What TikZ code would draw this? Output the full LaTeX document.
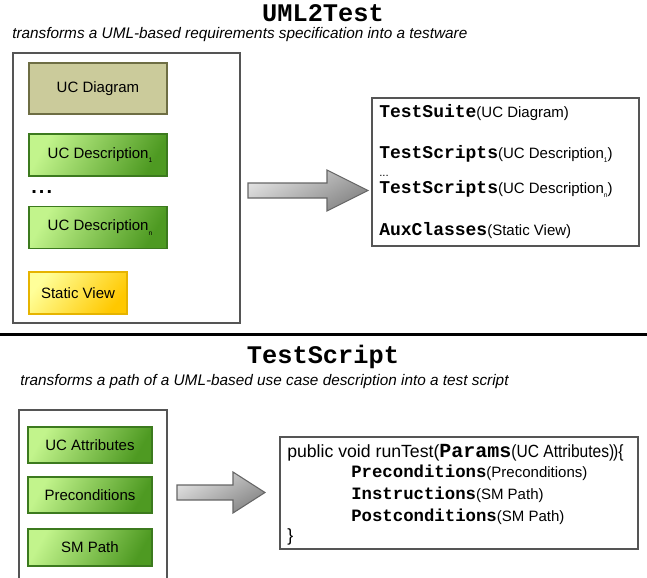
\documentclass[tikz,border=0pt]{standalone}
\usepackage{fontspec}
\setmainfont{Liberation Sans}
\setmonofont{Liberation Mono}
\usepackage{xcolor}
\usetikzlibrary{shapes,arrows,positioning}

\definecolor{oliveFill}{HTML}{CBCB9B}
\definecolor{oliveLine}{HTML}{6E6E44}
\definecolor{greenLight}{HTML}{C2F48C}
\definecolor{greenDark}{HTML}{4E9A22}
\definecolor{greenLine}{HTML}{3C7A1E}
\definecolor{yellowLight}{HTML}{FFFF99}
\definecolor{yellowDark}{HTML}{FFC800}
\definecolor{yellowLine}{HTML}{E6B400}
\definecolor{panelLine}{HTML}{555555}

\newcommand{\idx}[1]{\raisebox{-0.6ex}{\fontsize{5pt}{5pt}\selectfont #1}}
\newcommand{\kw}[2][13.5pt]{{\fontsize{#1}{#1}\selectfont\ttfamily\bfseries #2}}

\begin{document}
\begin{tikzpicture}[x=0.75pt, y=-0.75pt,
    every node/.style={font=\fontsize{11.25pt}{13pt}\selectfont, inner sep=0pt},
    panel/.style={draw=panelLine, line width=0.9pt},
    artefact/.style={line width=0.9pt, minimum width=103.5pt, minimum height=31.5pt},
    olivebox/.style={artefact, draw=oliveLine, fill=oliveFill},
    greenbox/.style={artefact, draw=greenLine, top color=greenLight, bottom color=greenDark, shading angle=60},
    yellowbox/.style={artefact, draw=yellowLine, top color=yellowLight, bottom color=yellowDark, shading angle=50},
    bigarrow/.style={draw=black!60, line width=0.8pt, top color=black!12, bottom color=black!48, shading angle=30},
    title/.style={font=\fontsize{19pt}{19pt}\selectfont\ttfamily\bfseries},
    subtitle/.style={anchor=west, font=\fontsize{11.5pt}{13pt}\selectfont\itshape},
    codeline/.style={anchor=base west}]
    \useasboundingbox (0,0) rectangle (647,578);

    % UML2Test
    \node[title] (umltitle) at (323,13) {UML2Test};
    \node[subtitle] (umlsub) at (12,35) {transforms a UML-based requirements specification into a testware};
    \draw[panel] (13,53) rectangle (240,323);
    \node[olivebox, minimum height=38.25pt] (ucdiagram) at (98,88.5) {UC Diagram};
    \node[greenbox] (ucdesc1) at (98,155) {\hspace{3pt}UC Description\idx{1}};
    \node[font=\fontsize{15pt}{15pt}\selectfont\bfseries, anchor=west] (dots) at (31,192)
        {.\kern1.6pt.\kern1.6pt.};
    \node[greenbox] (ucdescn) at (98,227.5) {\hspace{3pt}UC Description\idx{n}};
    \node[yellowbox, minimum width=73.5pt] (staticview) at (78,293) {Static View};

    \draw[panel] (372,98) rectangle (639,246);
    \node[codeline] (suite) at (379,117) {\kw{TestSuite}(UC Diagram)};
    \node[codeline] (scripts1) at (379,158) {\kw{TestScripts}(UC Description\idx{1})};
    \node[codeline, font=\fontsize{8.5pt}{8.5pt}\selectfont] (more) at (379,176.5) {...};
    \node[codeline] (scriptsn) at (379,193) {\kw{TestScripts}(UC Description\idx{n})};
    \node[codeline] (aux) at (379,235) {\kw{AuxClasses}(Static View)};

    % separator
    \draw[line width=2.25pt] (0,334) -- (647,334);

    % TestScript
    \node[title] (scripttitle) at (323,357) {TestScript};
    \node[subtitle] (scriptsub) at (20,382) {transforms a path of a UML-based use case description into a test script};
    \draw[panel] (19,580) -- (19,410) -- (167,410) -- (167,580);
    \node[greenbox, minimum width=93pt, minimum height=27pt] (attrs) at (90,445) {UC Attributes};
    \node[greenbox, minimum width=93pt, minimum height=27pt] (pre) at (90,495) {Preconditions};
    \node[greenbox, minimum width=93pt, minimum height=27.75pt] (path) at (90,547.5) {SM Path};

    \draw[panel] (280,437) rectangle (638,549);
    \node[codeline, font=\fontsize{13.25pt}{14pt}\selectfont] (head) at (287,457)
        {public void runTest(\kw[15pt]{Params}\scalebox{0.88}[1]{(UC Attributes)\hspace{-1pt})\{}};
    \node[codeline] (precond) at (351,477) {\kw[13pt]{Preconditions}(Preconditions)};
    \node[codeline] (instr) at (351,499) {\kw[13pt]{Instructions}(SM Path)};
    \node[codeline] (postcond) at (351,521) {\kw[13pt]{Postconditions}(SM Path)};
    \node[codeline, font=\fontsize{13.25pt}{14pt}\selectfont] (close) at (287,541) {\}};

    % transformation arrows
    \foreach \tx/\hx/\ex/\ey in {248/327/368/190.5, 177/233/265/492.5} {
        \draw[bigarrow] (\tx,\ey-7.5) -- (\hx,\ey-7.5) -- (\hx,\ey-20.5) -- (\ex,\ey)
            -- (\hx,\ey+20.5) -- (\hx,\ey+7.5) -- (\tx,\ey+7.5) -- cycle;
    }
\end{tikzpicture}
\end{document}
